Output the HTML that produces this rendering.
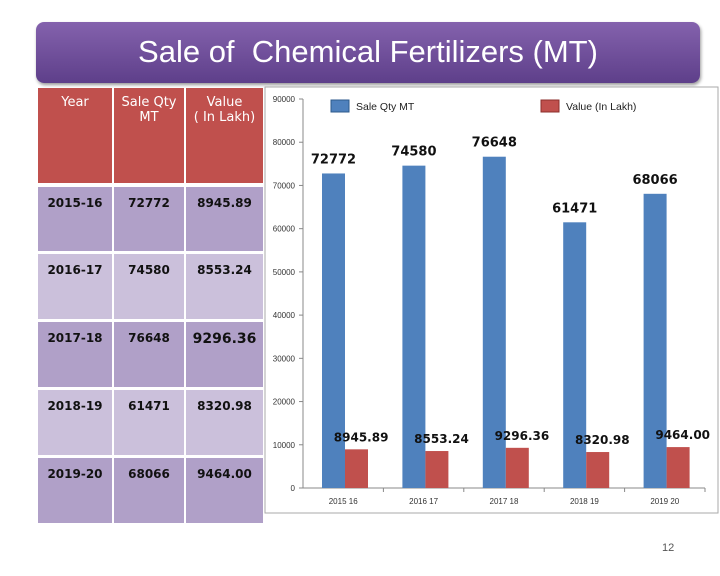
<!DOCTYPE html>
<html><head><meta charset="utf-8"><style>
body{margin:0;width:720px;height:576px;background:#fff;position:relative;overflow:hidden;font-family:"Liberation Sans",sans-serif}
#banner{position:absolute;left:36px;top:22px;width:664px;height:61px;border-radius:8px;background:linear-gradient(#8462ad,#5e3f8a);box-shadow:1px 2px 3px #999;color:#fff;font-size:31px;text-align:center;line-height:60px}
.c{position:absolute;font-family:"DejaVu Sans",sans-serif;font-weight:bold;font-size:12px;text-align:center;color:#111;padding-top:9px;box-sizing:border-box}
.h{background:#c0504d;color:#fff;font-weight:normal;font-size:13px;padding-top:7px}
.d{background:#b0a0c8}.l{background:#cbc0db}
</style></head><body>
<div id="banner">Sale of&nbsp; Chemical Fertilizers (MT)</div>
<div id="table"></div>
<svg id="chart" width="720" height="576" style="position:absolute;left:0;top:0"></svg>
<div style="position:absolute;left:662px;top:542px;font-size:11px;color:#555">12</div>
<script>
const years=["2015-16","2016-17","2017-18","2018-19","2019-20"];
const qty=[72772,74580,76648,61471,68066];
const val=[8945.89,8553.24,9296.36,8320.98,9464.00];
const qtyLabels=["72772","74580","76648","61471","68066"];
const valLabels=["8945.89","8553.24","9296.36","8320.98","9464.00"];
const yTicks=[0,10000,20000,30000,40000,50000,60000,70000,80000,90000];

// table
const T=document.getElementById('table');
const cols=[[38,74],[114,70],[186,77]];
const rows=[[187,64],[254,65],[322,65],[390,65],[458,65]];
function cell(x,y,w,h,cls,html,name){const d=document.createElement('div');d.className='c '+cls;d.style.left=x+'px';d.style.top=y+'px';d.style.width=w+'px';d.style.height=h+'px';d.innerHTML=html;


T.appendChild(d);return d;}
["Year","Sale Qty<br>MT","Value<br>( In Lakh)"].forEach((t,i)=>cell(cols[i][0],88,cols[i][1],95,'h',t,'table-header'));
years.forEach((y,r)=>{const cls=r%2?'l':'d';
 cell(cols[0][0],rows[r][0],cols[0][1],rows[r][1],cls,y,'table-year-cell');
 cell(cols[1][0],rows[r][0],cols[1][1],rows[r][1],cls,qtyLabels[r],'table-qty-cell');
 const vc=cell(cols[2][0],rows[r][0],cols[2][1],rows[r][1],cls,valLabels[r],'table-value-cell');
 if(r===2){vc.style.fontSize='14px';}});

// chart
const S=document.getElementById('chart');const NS='http://www.w3.org/2000/svg';
function el(t,a,name,txt){const e=document.createElementNS(NS,t);for(const k in a)e.setAttribute(k,a[k]);if(txt!=null)e.textContent=txt;


S.appendChild(e);return e;}
const x0=303,x1=705,yb=488,yt=99,ymax=90000;
const yS=v=>yb-(v/ymax)*(yb-yt);
const cw=(x1-x0)/years.length;
el('rect',{x:265,y:87,width:453,height:426,fill:'#fff',stroke:'#aaa','stroke-width':1},'plot-frame');
el('line',{x1:x0,y1:yt,x2:x0,y2:yb,stroke:'#888'},'y-axis');
el('line',{x1:x0,y1:yb,x2:x1,y2:yb,stroke:'#888'},'x-axis');
yTicks.forEach(t=>{const y=yS(t);el('line',{x1:x0-4,y1:y,x2:x0,y2:y,stroke:'#888'},'y-tick');
 el('text',{x:x0-8,y:y+3,'text-anchor':'end','font-size':8,fill:'#333'},'y-tick-label',String(t));});
years.forEach((yr,i)=>{const cx=x0+cw*i;
 el('line',{x1:cx+cw,y1:yb,x2:cx+cw,y2:yb+4,stroke:'#888'},'x-tick');
 el('text',{x:cx+cw/2,y:yb+16,'text-anchor':'middle','font-size':8,fill:'#333'},'x-tick-label',yr.replace('-',' '));
 const bx=cx+19,bw=23;
 el('rect',{x:bx,y:yS(qty[i]),width:bw,height:yb-yS(qty[i]),fill:'#4f81bd'},'bar-qty-'+yr);
 el('rect',{x:bx+bw,y:yS(val[i]),width:bw,height:yb-yS(val[i]),fill:'#c0504d'},'bar-value-'+yr);
 el('text',{x:bx+bw/2,y:yS(qty[i])-10,'text-anchor':'middle','font-size':13,'font-weight':'bold','font-family':'DejaVu Sans',fill:'#111'},'qty-label',qtyLabels[i]);
 el('text',{x:bx+bw*1.7,y:yS(val[i])-8,'text-anchor':'middle','font-size':12,'font-weight':'bold','font-family':'DejaVu Sans',fill:'#111'},'value-label',valLabels[i]);
});
el('rect',{x:331,y:100,width:18,height:12,fill:'#4f81bd',stroke:'#2c5a8c'},'legend-swatch-qty');
el('text',{x:356,y:110,'font-size':10.5,fill:'#222'},'legend-label-qty','Sale Qty MT');
el('rect',{x:541,y:100,width:18,height:12,fill:'#c0504d',stroke:'#8c2f2c'},'legend-swatch-value');
el('text',{x:566,y:110,'font-size':10.5,fill:'#222'},'legend-label-value','Value (In Lakh)');
</script>
</body></html>
